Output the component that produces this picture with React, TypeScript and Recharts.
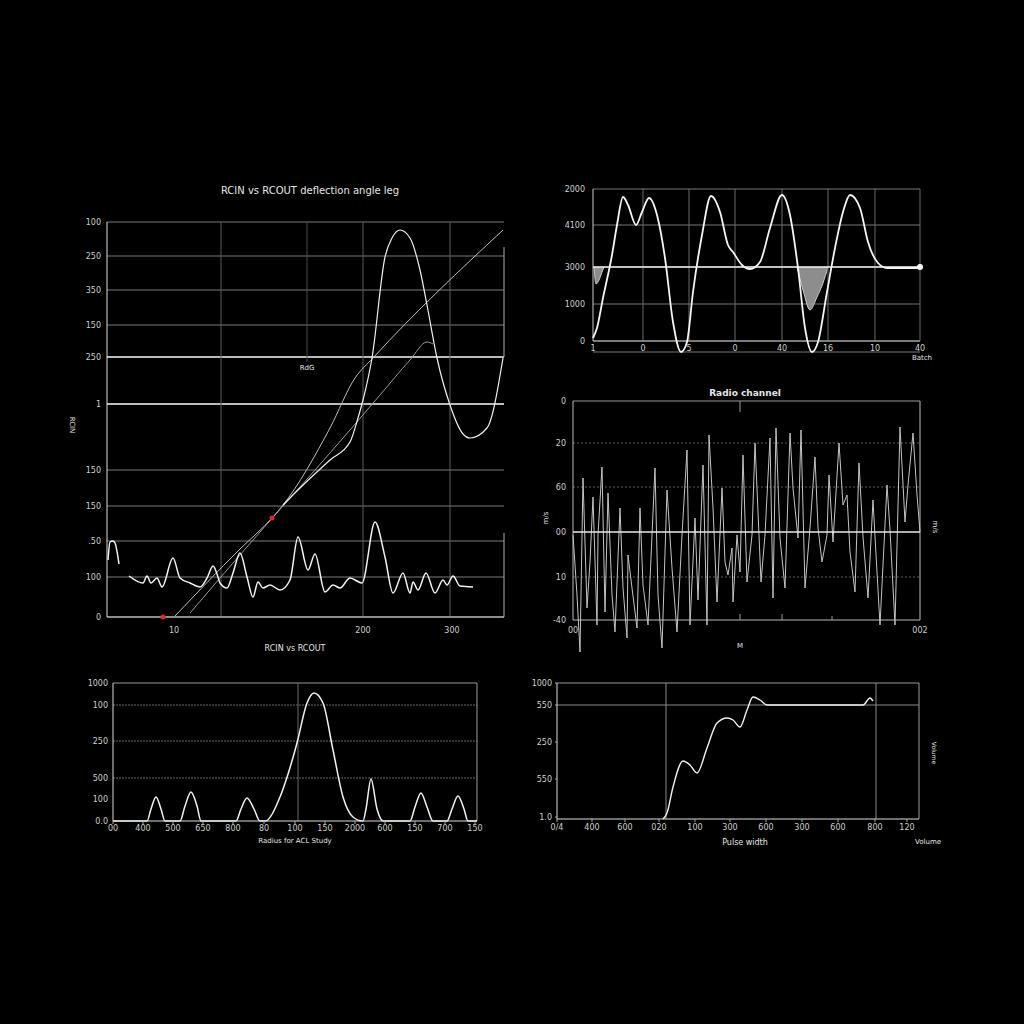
import React from 'react';
import { ComposedChart, Line, Area, XAxis, YAxis, CartesianGrid, ReferenceLine, ReferenceDot } from 'recharts';

const FONT = '"DejaVu Sans", sans-serif';
const TICK = '#cfcfcf';

// ---- RCIN vs RCOUT (top left)
const mainXTicks = [67, 256, 345];
const mainXLabels = ['10', '200', '300'];
const mainYTicks = [395, 361, 327, 292, 260, 213, 147, 111, 76, 40, 0];
const mainYLabels = ['100', '250', '350', '150', '250', '1', '150', '150', '.50', '100', '0'];
const mainNoiseA = [[1, 57], [3, 75], [6, 76], [8, 74], [12, 53]];
const mainNoiseB = [
  [22, 41], [36, 34], [40, 41], [44, 34], [50, 39], [55, 30], [66, 59], [73, 39], [83, 34], [93, 30],
  [100, 39], [106, 51], [110, 43], [113, 34], [120, 29], [126, 44], [133, 64], [140, 40], [146, 20], [151, 35],
  [156, 29], [163, 32], [173, 27], [183, 37], [191, 80], [201, 47], [208, 63], [218, 25], [226, 32], [233, 29],
  [243, 39], [255, 34], [268, 95], [278, 60], [286, 24], [296, 44], [303, 24], [306, 35], [311, 27], [319, 44],
  [328, 24], [336, 37], [340, 32], [346, 41], [353, 31], [366, 30],
];
const mainRamp = [[68, 1], [133, 68], [165, 99], [176, 112], [223, 189], [248, 239], [266, 259], [396, 387]];
const mainPeak = [
  [176, 112], [193, 129], [223, 157], [243, 175], [251, 199], [256, 217], [265, 259], [278, 360], [285, 379],
  [293, 387], [303, 379], [313, 347], [320, 312], [330, 259], [343, 212], [356, 183], [363, 179], [380, 189], [396, 259],
];
const mainDrift = [[83, 4], [153, 85], [193, 130], [243, 187], [273, 222], [303, 257], [320, 275], [326, 273]];
const mainMarks = [[165, 99], [56, 0]];

// ---- batch wave (top right)
const waveXTicks = [0, 50, 96, 142, 189, 235, 282, 327];
const waveXLabels = ['1', '0', '5', '0', '40', '16', '10', '40'];
const waveYTicks = [152, 116, 74, 37, 0];
const waveYLabels = ['2000', '4100', '3000', '1000', '0'];
const wave = [
  [0, 3], [4, 13], [10, 43], [19, 86], [24, 116], [30, 144], [35, 136], [43, 116], [49, 129], [56, 143],
  [64, 126], [72, 83], [80, 19], [88, -11], [94, -1], [100, 49], [109, 106], [118, 145], [127, 129], [135, 96],
  [140, 89], [149, 76], [157, 72], [167, 79], [177, 113], [189, 146], [197, 126], [205, 73], [212, 13], [219, -11],
  [225, -1], [234, 49], [242, 93], [250, 129], [257, 146], [267, 133], [275, 99], [285, 78], [294, 73], [327, 73],
];
const waveDipA = [[1, 74], [3, 57], [6, 61], [9, 69], [11, 74]];
const waveDipB = [[204, 74], [210, 51], [217, 31], [224, 44], [230, 58], [235, 74]];

// ---- Radio channel (middle right)
const radioXTicks = [0, 347];
const radioXLabels = ['00', '002'];
const radioYTicks = [131, 89, 45, 0, -45, -88];
const radioYLabels = ['0', '20', '60', '00', '10', '-40'];
const radio = [
  [0, -3], [4, -63], [7, -120], [10, 54], [14, -76], [17, -30], [20, 35], [24, -93], [25, -3], [29, 65],
  [32, -80], [35, 39], [39, -63], [42, -100], [47, 24], [50, -56], [54, -106], [55, -23], [59, -56], [64, -96],
  [67, 24], [70, -53], [75, -93], [82, 64], [85, -63], [89, -116], [94, 42], [99, -36], [104, -100], [109, -3],
  [114, 82], [117, -93], [122, 14], [125, -68], [130, 67], [134, -93], [136, 97], [140, 24], [144, -70], [149, 44],
  [152, -30], [155, -43], [159, -16], [160, -70], [164, -3], [167, -40], [170, 77], [174, -50], [179, -3], [182, 89],
  [185, 20], [188, -50], [192, -3], [197, 94], [200, -66], [203, 104], [207, -6], [212, -56], [217, 99], [220, 44],
  [225, -6], [228, 102], [232, -56], [237, 4], [242, 75], [245, 4], [249, -30], [254, -3], [256, 57], [260, -10],
  [266, 89], [270, 27], [274, 37], [277, -20], [282, -60], [286, 69], [290, -5], [295, -66], [300, 32], [304, -40],
  [307, -93], [314, 47], [317, 2], [322, -93], [327, 105], [332, 10], [335, 47], [340, 99], [344, 37], [347, 0],
];

// ---- Radius study (bottom left)
const radiusXTicks = [0, 30, 60, 90, 120, 151, 182, 212, 242, 272, 302, 332, 362];
const radiusXLabels = ['00', '400', '500', '650', '800', '80', '100', '150', '2000', '600', '150', '700', '150'];
const radiusYTicks = [138, 116, 80, 43, 22, 0];
const radiusYLabels = ['1000', '100', '250', '500', '100', '0.0'];
const radius = [
  [0, 0], [34, 0], [38, 12], [43, 24], [48, 12], [52, 0], [67, 0], [72, 15], [78, 29], [84, 15], [88, 0],
  [123, 0], [128, 12], [134, 23], [141, 12], [147, 0], [152, 0], [167, 24], [176, 50], [184, 78], [194, 118],
  [201, 128], [210, 118], [220, 71], [230, 24], [240, 4], [250, 0], [253, 12], [258, 42], [264, 12], [270, 0],
  [297, 0], [302, 14], [308, 28], [314, 14], [320, 0], [334, 0], [339, 12], [345, 25], [351, 12], [355, 0], [364, 0],
];

// ---- Pulse width (bottom right)
const pulseXTicks = [0, 35, 68, 102, 138, 173, 209, 245, 281, 318, 350];
const pulseXLabels = ['0/4', '400', '600', '020', '100', '300', '600', '300', '600', '800', '120'];
const pulseYTicks = [136, 114, 77, 40, 2];
const pulseYLabels = ['1000', '550', '250', '550', '1.0'];
const pulse = [
  [106, 0], [110, 6], [116, 32], [126, 58], [133, 54], [140, 46], [150, 71], [160, 96], [170, 101], [176, 99],
  [183, 92], [190, 109], [196, 122], [203, 119], [210, 114], [216, 114], [306, 114], [313, 121], [316, 118],
];

const pts = (a: number[][]) => a.map(([x, y]) => ({ x, y }));

const YW = 40, MT = 10, MR = 12, XH = 24;

const xTick = (ticks: number[], labels: string[], off: number) => (p: any) => (
  <text x={p.x} y={p.y + off} fill={TICK} fontSize={8} fontFamily={FONT} textAnchor="middle" dominantBaseline="central">
    {labels[ticks.indexOf(p.payload.value)]}
  </text>
);
const yTick = (ticks: number[], labels: string[]) => (p: any) => (
  <text x={p.x} y={p.y} fill={TICK} fontSize={8} fontFamily={FONT} textAnchor="end" dominantBaseline="central">
    {labels[ticks.indexOf(p.payload.value)]}
  </text>
);

function Panel({ left, top, w, h, children }: { left: number; top: number; w: number; h: number; children: React.ReactNode }) {
  return (
    <div style={{ position: 'absolute', left: left - YW, top: top - MT }}>
      <ComposedChart width={w + YW + MR} height={h + MT + XH} margin={{ top: MT, right: MR, bottom: 0, left: 0 }}>
        {children}
      </ComposedChart>
    </div>
  );
}

function Txt({ x, y, size = 8, rotate = 0, weight = 400, children }: { x: number; y: number; size?: number; rotate?: number; weight?: number; children: React.ReactNode }) {
  return (
    <div style={{ position: 'absolute', left: x, top: y, transform: `translate(-50%,-50%) rotate(${rotate}deg)`, color: '#e6e6e6', fontSize: size, fontWeight: weight, whiteSpace: 'nowrap', fontFamily: FONT }}>
      {children}
    </div>
  );
}

const line = { dot: false, isAnimationActive: false, dataKey: 'y' } as const;

export default function App() {
  return (
    <div style={{ position: 'absolute', left: 0, top: 0, width: 1024, height: 1024, background: '#000', overflow: 'hidden' }}>
      {/* top left */}
      <Panel left={107} top={222} w={397} h={395}>
        <CartesianGrid vertical={false} stroke="#7a7a7a" />
        <XAxis dataKey="x" type="number" domain={[0, 397]} ticks={mainXTicks} interval={0} height={XH}
          axisLine={{ stroke: '#dddddd' }} tickLine={false} tickSize={0} tickMargin={0} tick={xTick(mainXTicks, mainXLabels, 13)} />
        <YAxis type="number" domain={[0, 395]} ticks={mainYTicks} interval={0} width={YW}
          axisLine={{ stroke: '#dddddd' }} tickLine={false} tickSize={0} tickMargin={6} tick={yTick(mainYTicks, mainYLabels)} />
        <ReferenceLine y={260} stroke="#e6e6e6" strokeWidth={1.3} />
        <ReferenceLine y={213} stroke="#e6e6e6" strokeWidth={1.3} />
        <ReferenceLine x={114} stroke="#5c5c5c" />
        <ReferenceLine x={256} stroke="#5c5c5c" />
        <ReferenceLine x={343} stroke="#5c5c5c" />
        <ReferenceLine segment={[{ x: 200, y: 255 }, { x: 200, y: 395 }]} stroke="#4a4a4a" />
        <ReferenceLine segment={[{ x: 397, y: 0 }, { x: 397, y: 84 }]} stroke="#aaaaaa" />
        <ReferenceLine segment={[{ x: 397, y: 260 }, { x: 397, y: 370 }]} stroke="#aaaaaa" />
        <Line {...line} data={pts(mainRamp)} type="monotone" stroke="#bdbdbd" strokeWidth={1} />
        <Line {...line} data={pts(mainDrift)} type="monotone" stroke="#9a9a9a" strokeWidth={1} />
        <Line {...line} data={pts(mainPeak)} type="monotone" stroke="#f0f0f0" strokeWidth={1.2} />
        <Line {...line} data={pts(mainNoiseA)} type="monotone" stroke="#f2f2f2" strokeWidth={1.5} />
        <Line {...line} data={pts(mainNoiseB)} type="monotone" stroke="#f2f2f2" strokeWidth={1.5} />
        <Line {...line} data={pts(mainMarks)} stroke="none" dot={{ r: 2.5, fill: '#e02828', stroke: 'none' }} />
      </Panel>
      <Txt x={310} y={190} size={10}>RCIN vs RCOUT deflection angle leg</Txt>
      <Txt x={307} y={368} size={7}>RdG</Txt>
      <Txt x={72} y={425} size={7} rotate={90}>RCIN</Txt>
      <Txt x={295} y={648} size={8}>RCIN vs RCOUT</Txt>

      {/* top right */}
      <Panel left={593} top={189} w={327} h={163}>
        <CartesianGrid vertical={false} stroke="#777777" />
        <XAxis dataKey="x" type="number" domain={[0, 327]} ticks={waveXTicks} interval={0} height={XH}
          axisLine={false} tickLine={false} tickSize={0} tickMargin={0} tick={xTick(waveXTicks, waveXLabels, -4)} />
        <YAxis type="number" domain={[-11, 152]} ticks={waveYTicks} interval={0} width={YW}
          axisLine={false} tickLine={false} tickSize={0} tickMargin={8} tick={yTick(waveYTicks, waveYLabels)} />
        {waveXTicks.map((t) => (
          <ReferenceLine key={t} segment={[{ x: t, y: 0 }, { x: t, y: 152 }]} stroke={t === 0 ? '#cccccc' : '#6a6a6a'} />
        ))}
        <ReferenceLine y={0} stroke="#bbbbbb" />
        <ReferenceLine y={74} stroke="#eeeeee" strokeWidth={1.5} />
        <Area data={pts(waveDipA)} dataKey="y" baseValue={74} type="monotone" fill="#9c9c9c" fillOpacity={0.9} stroke="#cccccc" strokeWidth={1} isAnimationActive={false} />
        <Area data={pts(waveDipB)} dataKey="y" baseValue={74} type="monotone" fill="#9c9c9c" fillOpacity={0.9} stroke="#cccccc" strokeWidth={1} isAnimationActive={false} />
        <Line {...line} data={pts(wave)} type="monotone" stroke="#f5f5f5" strokeWidth={1.8} />
        <ReferenceDot x={327} y={74} r={3} fill="#ffffff" stroke="none" />
      </Panel>
      <Txt x={922} y={358} size={7}>Batch</Txt>

      {/* middle right */}
      <Panel left={573} top={401} w={347} h={251}>
        <XAxis dataKey="x" type="number" domain={[0, 347]} ticks={radioXTicks} interval={0} height={XH}
          axisLine={false} tickLine={false} tickSize={0} tickMargin={0} tick={xTick(radioXTicks, radioXLabels, -22)} />
        <YAxis type="number" domain={[-120, 131]} ticks={radioYTicks} interval={0} width={YW}
          axisLine={false} tickLine={false} tickSize={0} tickMargin={7} tick={yTick(radioYTicks, radioYLabels)} />
        <ReferenceLine y={89} stroke="#5a5a5a" strokeDasharray="2 2" />
        <ReferenceLine y={45} stroke="#5a5a5a" strokeDasharray="2 2" />
        <ReferenceLine y={-45} stroke="#5a5a5a" strokeDasharray="2 2" />
        <ReferenceLine y={131} stroke="#9a9a9a" />
        <ReferenceLine y={-88} stroke="#bbbbbb" />
        <ReferenceLine segment={[{ x: 0, y: -88 }, { x: 0, y: 131 }]} stroke="#bbbbbb" />
        <ReferenceLine segment={[{ x: 347, y: -88 }, { x: 347, y: 131 }]} stroke="#bbbbbb" />
        <ReferenceLine segment={[{ x: 167, y: 131 }, { x: 167, y: 120 }]} stroke="#999999" />
        <ReferenceLine segment={[{ x: 167, y: -88 }, { x: 167, y: -82 }]} stroke="#999999" />
        <ReferenceLine segment={[{ x: 209, y: -88 }, { x: 209, y: -82 }]} stroke="#999999" />
        <ReferenceLine segment={[{ x: 259, y: -88 }, { x: 259, y: -84 }]} stroke="#999999" />
        <Line {...line} data={pts(radio)} type="linear" stroke="#c4c4c4" strokeWidth={1} />
        <ReferenceLine y={0} stroke="#e8e8e8" strokeWidth={1.6} />
      </Panel>
      <Txt x={745} y={393} size={9} weight={700}>Radio channel</Txt>
      <Txt x={740} y={646} size={7}>M</Txt>
      <Txt x={546} y={518} size={7} rotate={-90}>m/s</Txt>
      <Txt x={935} y={527} size={7} rotate={90}>m/s</Txt>

      {/* bottom left */}
      <Panel left={113} top={683} w={364} h={138}>
        <XAxis dataKey="x" type="number" domain={[0, 364]} ticks={radiusXTicks} interval={0} height={XH}
          axisLine={{ stroke: '#dddddd' }} tickLine={{ stroke: '#aaaaaa' }} tickSize={3} tickMargin={0} tick={xTick(radiusXTicks, radiusXLabels, 4)} />
        <YAxis type="number" domain={[0, 138]} ticks={radiusYTicks} interval={0} width={YW}
          axisLine={{ stroke: '#dddddd' }} tickLine={false} tickSize={0} tickMargin={5} tick={yTick(radiusYTicks, radiusYLabels)} />
        <ReferenceLine y={138} stroke="#9a9a9a" />
        <ReferenceLine y={116} stroke="#6a6a6a" strokeDasharray="2 1" />
        <ReferenceLine y={80} stroke="#6a6a6a" strokeDasharray="2 1" />
        <ReferenceLine y={43} stroke="#6a6a6a" strokeDasharray="2 1" />
        <ReferenceLine x={185} stroke="#6a6a6a" />
        <ReferenceLine x={364} stroke="#9a9a9a" />
        <Line {...line} data={pts(radius)} type="monotone" stroke="#f2f2f2" strokeWidth={1.5} />
      </Panel>
      <Txt x={295} y={841} size={7}>Radius for ACL Study</Txt>

      {/* bottom right */}
      <Panel left={557} top={683} w={362} h={136}>
        <XAxis dataKey="x" type="number" domain={[0, 362]} ticks={pulseXTicks} interval={0} height={XH}
          axisLine={{ stroke: '#dddddd' }} tickLine={{ stroke: '#aaaaaa' }} tickSize={3} tickMargin={0} tick={xTick(pulseXTicks, pulseXLabels, 5)} />
        <YAxis type="number" domain={[0, 136]} ticks={pulseYTicks} interval={0} width={YW}
          axisLine={{ stroke: '#dddddd' }} tickLine={{ stroke: '#aaaaaa' }} tickSize={2} tickMargin={3} tick={yTick(pulseYTicks, pulseYLabels)} />
        <ReferenceLine y={136} stroke="#9a9a9a" />
        <ReferenceLine y={114} stroke="#8a8a8a" />
        <ReferenceLine x={109} stroke="#8a8a8a" />
        <ReferenceLine x={319} stroke="#8a8a8a" />
        <ReferenceLine x={362} stroke="#9a9a9a" />
        <Line {...line} data={pts(pulse)} type="monotone" stroke="#f2f2f2" strokeWidth={1.4} />
      </Panel>
      <Txt x={745} y={842} size={8}>Pulse width</Txt>
      <Txt x={928} y={842} size={7}>Volume</Txt>
      <Txt x={934} y={753} size={6} rotate={90}>Volume</Txt>
    </div>
  );
}
